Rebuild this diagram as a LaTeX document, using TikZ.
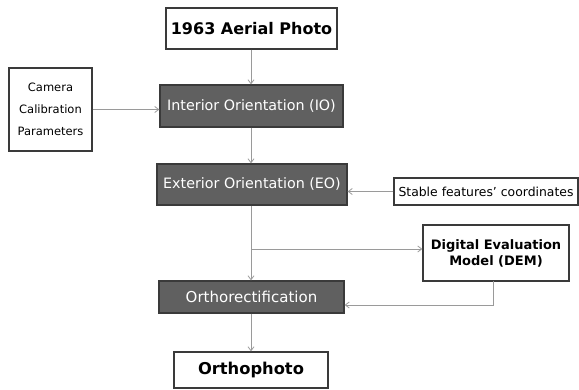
\documentclass[tikz,border=0pt]{standalone}
\usepackage{fontspec}
\setmainfont{DejaVu Sans}
\usetikzlibrary{arrows.meta}
\definecolor{boxfill}{HTML}{606060}
\definecolor{boxline}{HTML}{3A3A3A}
\definecolor{wireline}{HTML}{9A9A9A}
\tikzset{
  plainbox/.style={draw=boxline, line width=1.2pt, fill=white, text=black,
    inner sep=0pt, align=center},
  darkbox/.style={draw=boxline, line width=1.2pt, fill=boxfill, text=white,
    inner sep=0pt, align=center},
  wire/.style={draw=wireline, line width=0.8pt,
    -{Straight Barb[length=4pt,width=6pt]}},
}
\begin{document}
\begin{tikzpicture}[x=1pt,y=-1pt]
  \useasboundingbox (0,0) rectangle (579,390);

  % boxes
  \node[plainbox, minimum width=171pt, minimum height=41pt,
        font=\fontsize{16}{18}\selectfont\bfseries] (photo) at (251.5,28.5) {1963 Aerial Photo};
  \node[darkbox, minimum width=183pt, minimum height=42pt,
        font=\fontsize{14.3}{16}\selectfont] (io) at (251.5,106) {Interior Orientation (IO)};
  \node[plainbox, minimum width=83pt, minimum height=83pt,
        font=\fontsize{11.5}{22}\selectfont] (cam) at (50.5,109.5) {Camera\\Calibration\\Parameters};
  \node[darkbox, minimum width=190pt, minimum height=41pt,
        font=\fontsize{14.3}{16}\selectfont] (eo) at (252,184.5) {Exterior Orientation (EO)};
  \node[plainbox, minimum width=184pt, minimum height=27pt,
        font=\fontsize{12.4}{14}\selectfont] (stable) at (486,191.5) {Stable features' coordinates};
  \node[plainbox, minimum width=146pt, minimum height=56pt,
        font=\fontsize{13}{16}\selectfont\bfseries] (dem) at (496,253) {Digital Evaluation\\Model (DEM)};
  \node[darkbox, minimum width=185pt, minimum height=32pt,
        font=\fontsize{15}{17}\selectfont] (ortr) at (251.5,297) {Orthorectification};
  \node[plainbox, minimum width=154pt, minimum height=36pt,
        font=\fontsize{16.3}{18}\selectfont\bfseries] (ophoto) at (251,370) {Orthophoto};

  % connectors
  \coordinate (branch) at (251,249);
  \coordinate (demdrop) at (493,281);
  \coordinate (demturn) at (493,305);

  \draw[wire] (photo.south -| branch) -- (io.north -| branch);
  \draw[wire] (cam.east) -- (io.west |- cam.east);
  \draw[wire] (io.south -| branch) -- (eo.north -| branch);
  \draw[wire] (stable.west) -- (eo.east |- stable.west);
  \draw[wire] (eo.south -| branch) -- (ortr.north -| branch);
  \draw[wire] (branch) -- (dem.west |- branch);
  \draw[wire] (demdrop) -- (demturn) -- (ortr.east |- demturn);
  \draw[wire] (ortr.south -| branch) -- (ophoto.north -| branch);
\end{tikzpicture}
\end{document}
